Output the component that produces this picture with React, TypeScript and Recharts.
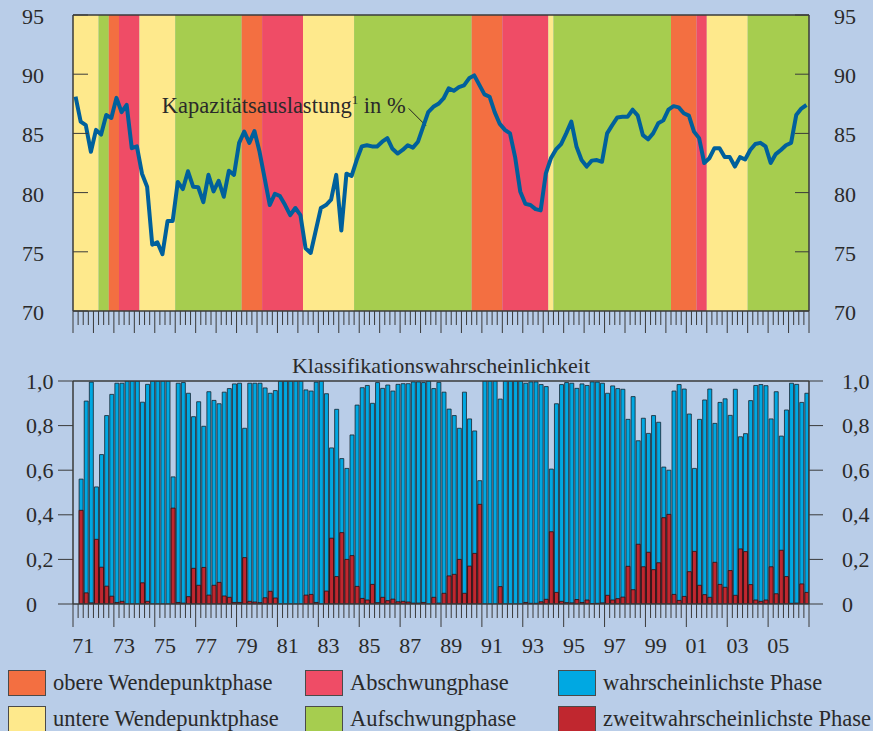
import React from 'react';
import { ComposedChart, Line, Bar, XAxis, YAxis, ReferenceArea, ReferenceLine } from 'recharts';

const FONT = "'Liberation Serif', 'Times New Roman', serif";
const TEXT = '#2a2a2a';
const AXIS = '#3a3a3a';
const BG = '#b9cde8';

const START_YEAR = 1971;
const END_YEAR = 2007;

// Kapazitätsauslastung in %, quarterly 1971Q1 .. 2006Q4
const capacityUtilisation = [
  88.1, 86.0, 85.7, 83.45, 85.3, 84.9, 86.55, 86.3, 88.0, 86.8, 87.4, 83.75,
  83.9, 81.6, 80.5, 75.6, 75.8, 74.8, 77.6, 77.6, 80.9, 80.3, 81.8, 80.5,
  80.45, 79.2, 81.5, 80.1, 81.0, 79.65, 81.85, 81.5, 84.2, 85.15, 84.2, 85.2,
  83.45, 81.2, 78.95, 79.9, 79.7, 78.95, 78.1, 78.7, 78.1, 75.3, 74.9, 76.8,
  78.7, 78.95, 79.4, 81.5, 76.8, 81.6, 81.4, 82.75, 83.9, 84.0, 83.9, 83.9,
  84.3, 84.6, 83.7, 83.3, 83.6, 84.0, 83.8, 84.3, 85.55, 86.8, 87.25, 87.5,
  87.95, 88.8, 88.6, 88.9, 89.05, 89.65, 89.9, 89.1, 88.3, 88.1, 86.8, 85.8,
  85.3, 85.0, 83.0, 80.1, 79.05, 78.95, 78.6, 78.5, 81.6, 82.9, 83.65, 84.1,
  85.0, 86.0, 83.9, 82.75, 82.2, 82.7, 82.75, 82.6, 85.0, 85.7, 86.35, 86.4,
  86.4, 87.0, 86.5, 84.85, 84.5, 85.0, 85.85, 86.1, 87.0, 87.3, 87.2, 86.7,
  86.5, 85.15, 84.6, 82.5, 82.9, 83.75, 83.75, 83.0, 83.0, 82.2, 83.0, 82.8,
  83.6, 84.1, 84.2, 83.9, 82.5, 83.25, 83.6, 84.0, 84.2, 86.55, 87.1, 87.4,
];

// Wahrscheinlichkeit der wahrscheinlichsten Phase
const mostLikelyPhaseProb = [
  null, 0.56, 0.91, 0.995, 0.525, 0.67, 0.845, 0.94, 0.99, 0.99, 1.0, 1.0,
  1.0, 0.905, 0.985, 1.0, 1.0, 1.0, 1.0, 0.57, 0.99, 0.993, 0.945, 0.84,
  0.907, 0.797, 0.952, 0.913, 0.898, 0.95, 0.966, 0.987, 0.99, 0.788, 0.99, 0.99,
  0.99, 0.969, 0.945, 0.957, 1.0, 1.0, 1.0, 1.0, 1.0, 0.96, 0.955, 0.995,
  1.0, 0.943, 0.7, 0.873, 0.652, 0.608, 0.758, 0.892, 0.97, 0.98, 0.9, 0.993,
  0.967, 0.982, 0.955, 0.985, 0.988, 0.988, 0.996, 0.996, 0.993, 1.0, 0.966, 0.994,
  0.95, 0.874, 0.845, 0.788, 0.95, 0.83, 0.776, 0.553, 1.0, 1.0, 1.0, 0.919,
  1.0, 1.0, 1.0, 1.0, 0.99, 0.996, 0.996, 0.984, 0.975, 0.605, 0.898, 0.984,
  0.993, 0.99, 0.967, 0.987, 0.98, 0.996, 0.995, 0.99, 0.945, 0.978, 0.966, 0.963,
  0.828, 0.93, 0.732, 0.833, 0.765, 0.845, 0.815, 0.614, 0.6, 0.955, 0.984, 0.964,
  0.852, 0.608, 0.828, 0.915, 0.964, 0.81, 0.904, 0.92, 0.846, 0.963, 0.75, 0.764,
  0.912, 0.98, 0.984, 0.979, 0.83, 0.952, 0.753, 0.87, 0.99, 0.985, 0.904, 0.945,
];

// Wahrscheinlichkeit der zweitwahrscheinlichsten Phase
const secondPhaseProb = [
  null, 0.42, 0.05, 0.005, 0.29, 0.165, 0.08, 0.035, 0.007, 0.012, 0, 0,
  0, 0.095, 0.012, 0, 0, 0, 0, 0.43, 0.007, 0.004, 0.033, 0.16,
  0.084, 0.164, 0.04, 0.084, 0.097, 0.036, 0.03, 0.007, 0.007, 0.208, 0.012, 0.009,
  0.006, 0.028, 0.057, 0.027, 0, 0, 0, 0, 0, 0.04, 0.043, 0.007,
  0, 0.058, 0.295, 0.123, 0.32, 0.2, 0.217, 0.079, 0.025, 0.018, 0.088, 0.006,
  0.03, 0.015, 0.022, 0.01, 0.012, 0.009, 0.004, 0.004, 0.007, 0, 0.03, 0.004,
  0.048, 0.126, 0.133, 0.2, 0.048, 0.17, 0.227, 0.447, 0, 0, 0, 0.078,
  0, 0, 0, 0, 0.007, 0.003, 0.003, 0.01, 0.021, 0.324, 0.052, 0.012,
  0.006, 0.005, 0.02, 0.007, 0.018, 0.002, 0.003, 0.005, 0.039, 0.018, 0.024, 0.031,
  0.169, 0.064, 0.268, 0.167, 0.232, 0.154, 0.185, 0.387, 0.402, 0.043, 0.016, 0.034,
  0.145, 0.236, 0.084, 0.042, 0.03, 0.187, 0.088, 0.075, 0.15, 0.039, 0.247, 0.235,
  0.087, 0.018, 0.012, 0.018, 0.167, 0.046, 0.241, 0.123, 0.003, 0.004, 0.09, 0.052,
];

// Konjunkturphasen (Beginn, Ende, Typ)
const phaseStart = [1971, 1972.25, 1972.75, 1973.25, 1974.25, 1976, 1979.25, 1980.25, 1982.25, 1984.75, 1990.5, 1992, 1994.25, 1994.5, 2000.25, 2001.5, 2002, 2004];
const phaseEnd = [1972.25, 1972.75, 1973.25, 1974.25, 1976, 1979.25, 1980.25, 1982.25, 1984.75, 1990.5, 1992, 1994.25, 1994.5, 2000.25, 2001.5, 2002, 2004, 2007];
const phaseType = ['untere', 'auf', 'obere', 'ab', 'untere', 'auf', 'obere', 'ab', 'untere', 'auf', 'obere', 'ab', 'untere', 'auf', 'obere', 'ab', 'untere', 'auf'];

const phaseColor: Record<string, string> = {
  obere: '#f36f41',
  ab: '#ef4c66',
  untere: '#fee98c',
  auf: '#a6cd4f',
};
const mostLikelyColor = '#00a8e2';
const secondColor = '#c0272f';
const lineColor = '#00609c';

const capacityTicks = [70, 75, 80, 85, 90, 95];
const probTicks = [0, 0.2, 0.4, 0.6, 0.8, 1];
const probTickLabels = ['0', '0,2', '0,4', '0,6', '0,8', '1,0'];
const labelYears = [1971, 1973, 1975, 1977, 1979, 1981, 1983, 1985, 1987, 1989, 1991, 1993, 1995, 1997, 1999, 2001, 2003, 2005];
const yearLabels = ['71', '73', '75', '77', '79', '81', '83', '85', '87', '89', '91', '93', '95', '97', '99', '01', '03', '05'];

const legendLabels = ['obere Wendepunktphase', 'Abschwungphase', 'wahrscheinlichste Phase', 'untere Wendepunktphase', 'Aufschwungphase', 'zweitwahrscheinlichste Phase'];
const legendColors = [phaseColor.obere, phaseColor.ab, mostLikelyColor, phaseColor.untere, phaseColor.auf, secondColor];

// quarter boundaries as axis ticks
const quarterTicks: number[] = [];
for (let k = 0; k <= (END_YEAR - START_YEAR) * 4; k++) quarterTicks.push(START_YEAR + k / 4);

const data = capacityUtilisation.map((cu, i) => ({
  x: START_YEAR + (i + 0.5) / 4,
  cu,
  p1: mostLikelyPhaseProb[i],
  p2: secondPhaseProb[i],
}));

const TopXTick = (props: any) => {
  const { x, y, payload } = props;
  const v = payload.value;
  const isYear = Number.isInteger(v);
  return <line x1={x} x2={x} y1={y} y2={y + (isYear ? 22 : 14)} stroke={AXIS} strokeWidth={1} />;
};

const BottomXTick = (props: any) => {
  const { x, y, payload } = props;
  const v = payload.value;
  const yr = Math.floor(v);
  const frac = v - yr;
  const isLong = frac === 0 && yr % 2 === 1;
  const li = frac === 0.5 ? labelYears.indexOf(yr) : -1;
  return (
    <g>
      <line x1={x} x2={x} y1={y} y2={y + (isLong ? 23 : 14)} stroke={AXIS} strokeWidth={1} />
      {li >= 0 && (
        <text x={x} y={y + 49} textAnchor="middle" fontFamily={FONT} fontSize={22} fill={TEXT}>
          {yearLabels[li]}
        </text>
      )}
    </g>
  );
};

const TopLeftYTick = (props: any) => {
  const { x, y, payload } = props;
  return (
    <g>
      <line x1={x} x2={x + 15} y1={y} y2={y} stroke={AXIS} strokeWidth={1} />
      <text x={x - 51} y={y + 9} textAnchor="start" fontFamily={FONT} fontSize={22} fill={TEXT}>{payload.value}</text>
    </g>
  );
};
const TopRightYTick = (props: any) => {
  const { x, y, payload } = props;
  return (
    <g>
      <line x1={x - 14} x2={x} y1={y} y2={y} stroke={AXIS} strokeWidth={1} />
      <text x={x + 25} y={y + 9} textAnchor="start" fontFamily={FONT} fontSize={22} fill={TEXT}>{payload.value}</text>
    </g>
  );
};
const probLabel = (v: number) => probTickLabels[probTicks.findIndex((t) => Math.abs(t - v) < 1e-9)];
const BottomLeftYTick = (props: any) => {
  const { x, y, payload } = props;
  return (
    <g>
      <line x1={x - 15} x2={x} y1={y} y2={y} stroke={AXIS} strokeWidth={1} />
      <text x={x - 47} y={y + 7.5} textAnchor="start" fontFamily={FONT} fontSize={22} fill={TEXT}>{probLabel(payload.value)}</text>
    </g>
  );
};
const BottomRightYTick = (props: any) => {
  const { x, y, payload } = props;
  return (
    <g>
      <line x1={x} x2={x + 14} y1={y} y2={y} stroke={AXIS} strokeWidth={1} />
      <text x={x + 33} y={y + 7.5} textAnchor="start" fontFamily={FONT} fontSize={22} fill={TEXT}>{probLabel(payload.value)}</text>
    </g>
  );
};

export default function App() {
  return (
    <div style={{ position: 'absolute', left: 0, top: 0, width: 873, height: 731, background: BG, overflow: 'hidden', fontFamily: FONT }}>
      <div style={{ position: 'absolute', left: 0, top: 0 }}>
        <ComposedChart width={873} height={345} data={data} margin={{ top: 15, right: 24, bottom: 14, left: 33 }}>
          <XAxis
            dataKey="x"
            type="number"
            domain={[START_YEAR, END_YEAR]}
            ticks={quarterTicks}
            interval={0}
            tickSize={0}
            tickMargin={0}
            tickLine={false}
            axisLine={{ stroke: AXIS, strokeWidth: 1.5 }}
            height={20}
            tick={<TopXTick />}
            allowDataOverflow
          />
          <YAxis yAxisId="left" domain={[70, 95]} ticks={capacityTicks} width={40} tickSize={0} tickMargin={0} tickLine={false} axisLine={{ stroke: AXIS, strokeWidth: 1.5 }} tick={<TopLeftYTick />} allowDataOverflow />
          <YAxis yAxisId="right" orientation="right" domain={[70, 95]} ticks={capacityTicks} width={40} tickSize={0} tickMargin={0} tickLine={false} axisLine={{ stroke: AXIS, strokeWidth: 1.5 }} tick={<TopRightYTick />} allowDataOverflow />
          {phaseStart.map((s, i) => (
            <ReferenceArea key={i} yAxisId="left" x1={s} x2={phaseEnd[i]} y1={70} y2={95} fill={phaseColor[phaseType[i]]} fillOpacity={1} stroke="none" />
          ))}
          <ReferenceLine yAxisId="left" y={95} stroke={AXIS} strokeWidth={1.5} />
          <ReferenceLine yAxisId="left" segment={[{ x: 1987.42, y: 87.11 }, { x: 1988.27, y: 85.64 }]} stroke="#222" strokeWidth={1} />
          <Line yAxisId="left" dataKey="cu" stroke={lineColor} strokeWidth={4} dot={false} isAnimationActive={false} strokeLinejoin="round" />
        </ComposedChart>
      </div>
      <div style={{ position: 'absolute', left: 0, top: 345 }}>
        <ComposedChart width={873} height={315} data={data} margin={{ top: 36, right: 24, bottom: 0, left: 33 }} barGap={-4}>
          <XAxis
            dataKey="x"
            type="number"
            domain={[START_YEAR, END_YEAR]}
            ticks={quarterTicks}
            interval={0}
            tickSize={0}
            tickMargin={0}
            tickLine={false}
            axisLine={{ stroke: AXIS, strokeWidth: 1.5 }}
            height={56}
            tick={<BottomXTick />}
            allowDataOverflow
          />
          <YAxis yAxisId="left" domain={[0, 1]} ticks={probTicks} width={40} tickSize={0} tickMargin={0} tickLine={false} axisLine={{ stroke: AXIS, strokeWidth: 1.5 }} tick={<BottomLeftYTick />} allowDataOverflow />
          <YAxis yAxisId="right" orientation="right" domain={[0, 1]} ticks={probTicks} width={40} tickSize={0} tickMargin={0} tickLine={false} axisLine={{ stroke: AXIS, strokeWidth: 1.5 }} tick={<BottomRightYTick />} allowDataOverflow />
          <ReferenceLine yAxisId="left" y={1} stroke={AXIS} strokeWidth={1.5} />
          <Bar yAxisId="left" dataKey="p1" barSize={4} fill={mostLikelyColor} stroke="#15232e" strokeWidth={0.8} isAnimationActive={false} />
          <Bar yAxisId="left" dataKey="p2" barSize={4} fill={secondColor} stroke="#2a0c0c" strokeWidth={0.8} isAnimationActive={false} />
        </ComposedChart>
      </div>
      <svg width={873} height={731} style={{ position: 'absolute', left: 0, top: 0, pointerEvents: 'none' }}>
        <text x={161.7} y={113.3} fontFamily={FONT} fontSize={22.5} fill={TEXT}>
          Kapazitätsauslastung<tspan fontSize={13} dy={-9}>1</tspan><tspan dy={9}> in %</tspan>
        </text>
        <text x={441} y={373} textAnchor="middle" fontFamily={FONT} fontSize={22} fill={TEXT}>Klassifikationswahrscheinlichkeit</text>
        {legendLabels.map((lab, i) => {
          const col = i % 3;
          const row = Math.floor(i / 3);
          const sx = [8, 305, 558][col];
          const sy = [670, 706][row];
          return (
            <g key={lab}>
              <rect x={sx + 0.5} y={sy + 0.5} width={37} height={25} fill={legendColors[i]} stroke="#4a4a4a" strokeWidth={1} />
              <text x={sx + 45} y={sy + 20} fontFamily={FONT} fontSize={22.5} fill={TEXT}>{lab}</text>
            </g>
          );
        })}
      </svg>
    </div>
  );
}
